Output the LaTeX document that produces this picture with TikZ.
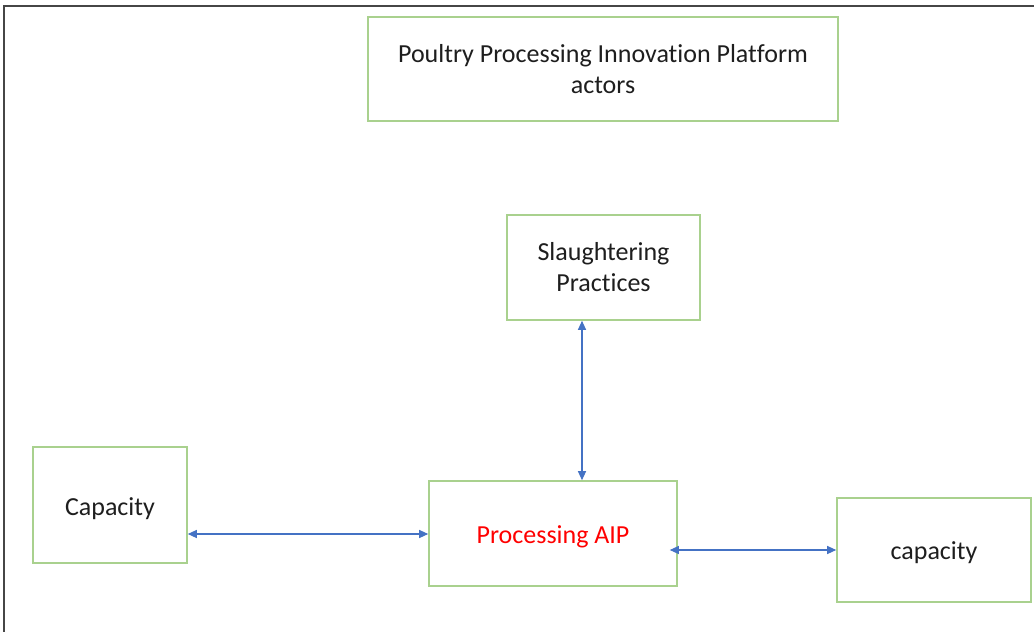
\documentclass[tikz,border=0pt]{standalone}
\usepackage{fontspec}
\setmainfont{Carlito}[Ligatures=NoCommon]
\usetikzlibrary{arrows.meta}
\definecolor{boxgreen}{RGB}{169,209,142}
\definecolor{arrblue}{RGB}{68,114,196}
\definecolor{txt}{RGB}{30,30,30}
\definecolor{frame}{RGB}{70,70,70}
\newcommand{\lowertext}[2]{\raisebox{-#1}[\height][\depth]{#2}}
\begin{document}
\begin{tikzpicture}[x=1pt,y=-1pt,
  gbox/.style={draw=boxgreen,line width=1.6pt,fill=white,inner sep=0pt,
    font=\fontsize{26}{31}\selectfont,text=txt,align=center},
  link/.style={draw=arrblue,line width=1.2pt,{Triangle[length=9pt,width=8pt]}-{Triangle[length=9pt,width=8pt]}}]
\useasboundingbox (0,0) rectangle (1034,632);
\fill[white] (0,0) rectangle (1034,632);
\draw[frame,line width=2pt] (4,632) -- (4,6) -- (1034,6);
\node[gbox,minimum width=470pt,minimum height=104pt] (title) at (603,69) {Poultry Processing Innovation Platform\\actors};
\node[gbox,minimum width=193pt,minimum height=105pt] (slaughter) at (603.5,267.5) {\lowertext{2pt}{\begin{tabular}{@{}c@{}}Slaughtering\\Practices\end{tabular}}};
\node[gbox,minimum width=154pt,minimum height=116pt] (capL) at (110,505) {\lowertext{3.5pt}{Capacity}};
\node[gbox,minimum width=248pt,minimum height=105pt,text=red] (proc) at (553,533.5) {\lowertext{3pt}{Processing AIP}};
\node[gbox,minimum width=194pt,minimum height=104pt] (capR) at (934,550) {\lowertext{3pt}{capacity}};
\draw[link] (slaughter.south -| 582,0) -- (proc.north -| 582,0);
\draw[link] (capL.east |- 0,534) -- (proc.west |- 0,534);
\draw[link,shorten <=-8pt] (proc.east |- 0,550) -- (capR.west |- 0,550);
\end{tikzpicture}
\end{document}
